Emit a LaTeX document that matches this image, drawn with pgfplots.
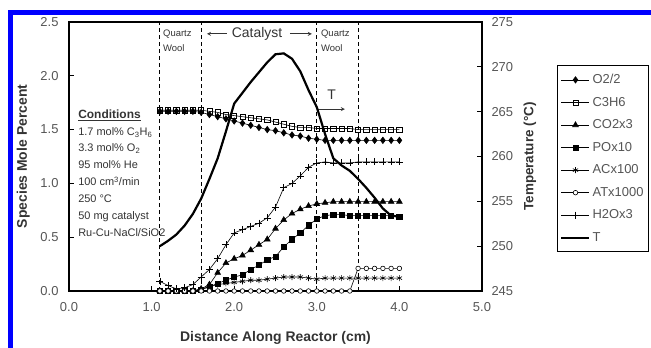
\documentclass[border=0pt]{standalone}
\usepackage{pgfplots}
\pgfplotsset{compat=1.18}
\usepackage{pgfplotstable}
\usepackage{fontspec}
\setmainfont{Liberation Sans}
\definecolor{tickgray}{HTML}{555555}
\definecolor{labgray}{HTML}{333333}
\definecolor{frameblue}{HTML}{0000FF}

\pgfplotstableread{
x O2 C3H6 CO2 PO AC AT H2O T
1.1 1.67 1.68 0.00 0.00 0.00 0.00 0.09 250.0
1.2 1.67 1.68 0.00 0.00 0.00 0.00 0.05 250.6
1.3 1.67 1.68 0.00 0.00 0.00 0.00 0.02 251.3
1.4 1.67 1.68 0.00 0.00 0.00 0.00 0.03 252.3
1.5 1.67 1.68 0.00 0.00 0.00 0.00 0.06 253.6
1.6 1.66 1.68 0.02 0.01 0.02 0.00 0.13 255.3
1.7 1.64 1.67 0.06 0.04 0.04 0.00 0.20 257.5
1.8 1.62 1.66 0.17 0.07 0.06 0.00 0.30 259.8
1.9 1.60 1.64 0.26 0.10 0.07 0.00 0.43 262.8
2.0 1.58 1.63 0.30 0.13 0.08 0.00 0.54 265.9
2.1 1.56 1.62 0.33 0.15 0.09 0.00 0.57 267.1
2.2 1.54 1.61 0.38 0.20 0.10 0.00 0.60 268.3
2.3 1.52 1.60 0.43 0.24 0.10 0.00 0.63 269.4
2.4 1.50 1.59 0.48 0.29 0.11 0.00 0.68 270.5
2.5 1.49 1.57 0.58 0.32 0.12 0.00 0.78 271.4
2.6 1.47 1.55 0.66 0.41 0.13 0.00 0.96 271.5
2.7 1.45 1.53 0.72 0.48 0.13 0.00 1.00 270.9
2.8 1.44 1.52 0.76 0.54 0.13 0.00 1.07 269.5
2.9 1.42 1.52 0.79 0.61 0.12 0.00 1.15 267.4
3.0 1.41 1.51 0.81 0.67 0.11 0.00 1.19 265.5
3.1 1.40 1.51 0.82 0.70 0.12 0.00 1.20 262.5
3.2 1.40 1.51 0.83 0.71 0.12 0.00 1.19 259.8
3.3 1.40 1.51 0.83 0.71 0.12 0.00 1.19 259.0
3.4 1.40 1.51 0.83 0.70 0.12 0.00 1.19 258.4
3.5 1.40 1.50 0.83 0.70 0.12 0.21 1.20 257.5
3.6 1.40 1.50 0.83 0.70 0.12 0.21 1.20 256.5
3.7 1.40 1.50 0.83 0.70 0.12 0.21 1.20 255.4
3.8 1.40 1.50 0.83 0.70 0.12 0.21 1.20 254.2
3.9 1.40 1.50 0.83 0.70 0.12 0.21 1.20 253.4
4.0 1.40 1.50 0.83 0.69 0.12 0.21 1.20 253.3
}\data

\begin{document}
\begin{tikzpicture}
\begin{axis}[
  name=main,
  scale only axis, width=413bp, height=269bp,
  xmin=0, xmax=5, ymin=0, ymax=2.5,
  xtick={0,1,2,3,4,5}, ytick={0,0.5,1,1.5,2,2.5},
  xtick pos=bottom, ytick pos=left, tick align=inside,
  major tick length=5bp,
  axis line style={line width=1.2bp},
  every tick/.style={black, line width=1bp},
  tick label style={font=\fontsize{13}{13}\selectfont, text=tickgray},
  xticklabel style={yshift=-8bp},
  yticklabel style={xshift=-7bp},
  /pgf/number format/.cd, fixed, fixed zerofill, precision=1, assume math mode=true, /pgfplots/.cd,
  every axis y label/.style={at={(axis description cs:-0.111,0.5)}, rotate=90, anchor=center, font=\bfseries\fontsize{14}{14}\selectfont, text=labgray},
  every axis x label/.style={at={(axis description cs:0.5,-0.175)}, anchor=center, font=\bfseries\fontsize{14}{14}\selectfont, text=labgray},
  ylabel={Species Mole Percent},
  xlabel={Distance Along Reactor (cm)},
  legend style={at={(1.1816,0.840)}, anchor=north west, draw=black, line width=0.8bp,
    font=\fontsize{13}{15}\selectfont, text=tickgray, inner xsep=3bp, inner ysep=7bp,
    row sep=8bp, cells={anchor=west}},
  legend image code/.code={\draw[mark repeat=2,mark phase=2] plot coordinates {(0bp,0bp) (14bp,0bp) (28bp,0bp)};},
]
% region dividers
\draw[line width=1bp, dash pattern=on 4bp off 3bp] (axis cs:1.1,0) -- (axis cs:1.1,2.5);
\draw[line width=1bp, dash pattern=on 4bp off 3bp] (axis cs:1.6,0) -- (axis cs:1.6,2.5);
\draw[line width=1bp, dash pattern=on 4bp off 3bp] (axis cs:3.0,0) -- (axis cs:3.0,2.5);
\draw[line width=1bp, dash pattern=on 4bp off 3bp] (axis cs:3.5,0) -- (axis cs:3.5,2.5);

% C3H6 drawn first so that the O2 diamonds sit on top of it
\addplot[black, line width=0.6bp, mark=square, mark size=2.6bp, mark options={solid}, forget plot] table[x=x,y=C3H6]{\data};
\addplot[black, line width=0.6bp, mark=diamond*, mark size=3.2bp, mark options={solid, fill=black}] table[x=x,y=O2]{\data};
\addlegendentry{O2/2}
\addlegendimage{black, line width=0.6bp, mark=square, mark size=2.6bp, mark options={solid}}
\addlegendentry{C3H6}
\addplot[black, line width=0.6bp, mark=triangle*, mark size=3.3bp, mark options={solid, fill=black}] table[x=x,y=CO2]{\data};
\addlegendentry{CO2x3}
\addplot[black, line width=0.6bp, mark=square*, mark size=2.6bp, mark options={solid, fill=black}] table[x=x,y=PO]{\data};
\addlegendentry{POx10}
\addplot[black, line width=0.6bp, mark=asterisk, mark size=3bp, mark options={solid}] table[x=x,y=AC]{\data};
\addlegendentry{ACx100}
\addplot[black, line width=0.6bp, mark=*, mark size=2.3bp, mark options={solid, fill=white}] table[x=x,y=AT]{\data};
\addlegendentry{ATx1000}
\addplot[black, line width=0.6bp, mark=+, mark size=3.5bp, mark options={solid}] table[x=x,y=H2O]{\data};
\addlegendentry{H2Ox3}
\addlegendimage{black, line width=2.2bp, no marks}
\addlegendentry{T}

% annotations
\node[anchor=base west, font=\fontsize{9.5}{9.5}\selectfont, text=labgray, inner sep=0pt] at (axis cs:1.138,2.365) {Quartz};
\node[anchor=base west, font=\fontsize{9.5}{9.5}\selectfont, text=labgray, inner sep=0pt] at (axis cs:1.138,2.226) {Wool};
\node[anchor=base west, font=\fontsize{9.5}{9.5}\selectfont, text=labgray, inner sep=0pt] at (axis cs:3.05,2.365) {Quartz};
\node[anchor=base west, font=\fontsize{9.5}{9.5}\selectfont, text=labgray, inner sep=0pt] at (axis cs:3.05,2.226) {Wool};
\node[anchor=center, font=\fontsize{14}{14}\selectfont, text=labgray, inner sep=0pt] at (axis cs:2.276,2.39) {Catalyst};
\draw[-stealth, line width=0.8bp, labgray] (axis cs:1.91,2.39) -- (axis cs:1.67,2.39);
\draw[-stealth, line width=0.8bp, labgray] (axis cs:2.675,2.39) -- (axis cs:2.94,2.39);
\node[anchor=center, font=\fontsize{14}{14}\selectfont, text=labgray, inner sep=0pt] at (axis cs:3.18,1.82) {T};
\draw[-stealth, line width=0.8bp, labgray] (axis cs:3.01,1.69) -- (axis cs:3.34,1.69);

\node[anchor=base west, font=\bfseries\fontsize{12}{12}\selectfont, text=labgray, inner sep=0pt] at (axis cs:0.11,1.599) {\underline{Conditions}};
\node[anchor=base west, font=\fontsize{11}{11}\selectfont, text=labgray, inner sep=0pt] at (axis cs:0.11,1.441) {1.7 mol\% C\textsubscript{3}H\textsubscript{6}};
\node[anchor=base west, font=\fontsize{11}{11}\selectfont, text=labgray, inner sep=0pt] at (axis cs:0.11,1.292) {3.3 mol\% O\textsubscript{2}};
\node[anchor=base west, font=\fontsize{11}{11}\selectfont, text=labgray, inner sep=0pt] at (axis cs:0.11,1.143) {95 mol\% He};
\node[anchor=base west, font=\fontsize{11}{11}\selectfont, text=labgray, inner sep=0pt] at (axis cs:0.11,0.976) {100 cm\textsuperscript{3}/min};
\node[anchor=base west, font=\fontsize{11}{11}\selectfont, text=labgray, inner sep=0pt] at (axis cs:0.11,0.818) {250 °C};
\node[anchor=base west, font=\fontsize{11}{11}\selectfont, text=labgray, inner sep=0pt] at (axis cs:0.11,0.669) {50 mg catalyst};
\node[anchor=base west, font=\fontsize{11}{11}\selectfont, text=labgray, inner sep=0pt] at (axis cs:0.11,0.511) {Ru-Cu-NaCl/SiO2};
\end{axis}

\begin{axis}[
  scale only axis, width=413bp, height=269bp,
  xmin=0, xmax=5, ymin=245, ymax=275,
  axis x line=none, axis y line*=right,
  axis line style={line width=1.2bp, -},
  ytick={245,250,255,260,265,270,275},
  tick align=inside, major tick length=5bp,
  every tick/.style={black, line width=1bp},
  tick label style={font=\fontsize{13}{13}\selectfont, text=tickgray},
  yticklabel style={xshift=6bp},
  /pgf/number format/assume math mode=true,
  every axis y label/.style={at={(axis description cs:1.116,0.5)}, rotate=90, anchor=center, font=\bfseries\fontsize{13.5}{13.5}\selectfont, text=labgray},
  ylabel={Temperature (°C)},
]
\addplot[black, line width=2.2bp, no marks] table[x=x,y=T]{\data};
\end{axis}

\fill[frameblue] (-61bp,276bp) rectangle (582bp,281bp);
\fill[frameblue] (-61bp,-57bp) rectangle (-56bp,281bp);

\pgfresetboundingbox
\useasboundingbox (-69bp,-57bp) rectangle (582bp,291bp);
\end{tikzpicture}
\end{document}
